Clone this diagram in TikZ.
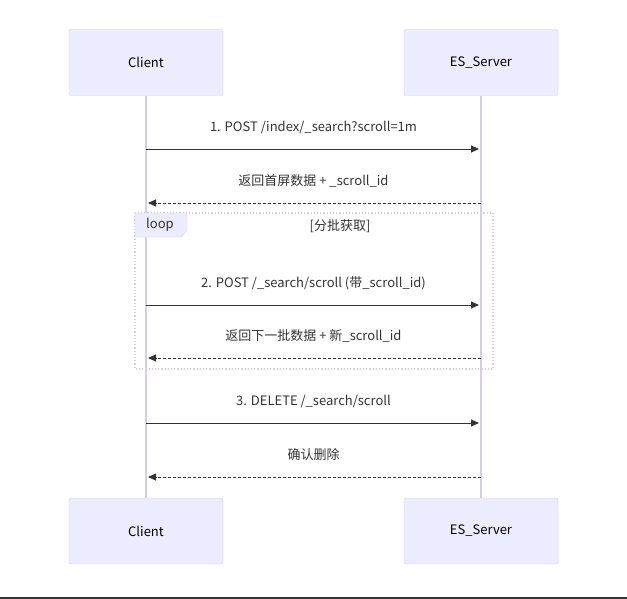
\documentclass[tikz,border=0pt]{standalone}
\usepackage{fontspec}
\setmainfont{Noto Sans CJK SC}
\usetikzlibrary{positioning,arrows.meta}
\definecolor{actfill}{HTML}{ECECFF}
\definecolor{actline}{HTML}{CCCCFF}
\definecolor{lifeline}{HTML}{D6CCF0}
\definecolor{msgline}{HTML}{333333}
\tikzset{
  actor/.style={draw=actline,fill=actfill,rounded corners=2pt,minimum width=154pt,minimum height=66pt,font=\fontsize{13}{15}\selectfont},
  msg/.style={draw=msgline,line width=0.9pt,-{Triangle[length=8pt,width=7pt]}},
  reply/.style={msg,dash pattern=on 3pt off 2pt},
  msgtext/.style={font=\fontsize{13}{15}\selectfont,text=msgline}
}
\begin{document}
\begin{tikzpicture}[x=1pt,y=-1pt]
    \useasboundingbox (0,0) rectangle (627,599);
    % lifelines
    \coordinate (ctop) at (146,96);  \coordinate (cbot) at (146,498);
    \coordinate (stop) at (481,96);  \coordinate (sbot) at (481,498);
    \draw[lifeline,line width=1.4pt] (ctop) -- (cbot);
    \draw[lifeline,line width=1.4pt] (stop) -- (sbot);

    % actors
    \node[actor] (client) at (146,62.5) {Client};
    \node[actor] (server) at (481,62.5) {ES\_Server};
    \node[actor] (client2) at (146,531) {Client};
    \node[actor] (server2) at (481,531) {ES\_Server};

    % loop frame
    \draw[lifeline,line width=1.2pt,dotted] (135,213) rectangle (493,369);
    \draw[lifeline,fill=actfill] (135,213) -- (187,213) -- (187,230) -- (181,237) -- (135,237) -- cycle;
    \node[msgtext] (looptag) at (160,225) {loop};
    \node[msgtext] (looptitle) at (340,226) {[分批获取]};

    % messages
    \foreach \y/\txt/\st/\from/\to in {
        149/{1. POST /index/\_search?scroll=1m}/msg/146/479,
        203/{返回首屏数据 + \_scroll\_id}/reply/481/148,
        305/{2. POST /\_search/scroll (带\_scroll\_id)}/msg/146/479,
        358/{返回下一批数据 + 新\_scroll\_id}/reply/481/148,
        423/{3. DELETE /\_search/scroll}/msg/146/479,
        477/{确认删除}/reply/481/148} {
      \coordinate (a) at (\from,\y);
      \coordinate (b) at (\to,\y);
      \draw[\st] (a) -- (b);
      \node[msgtext] at (313.5,\y-22) {\txt};
    }

    % bottom rule
    \draw[msgline,line width=2pt] (0,598) -- (627,598);
\end{tikzpicture}
\end{document}
